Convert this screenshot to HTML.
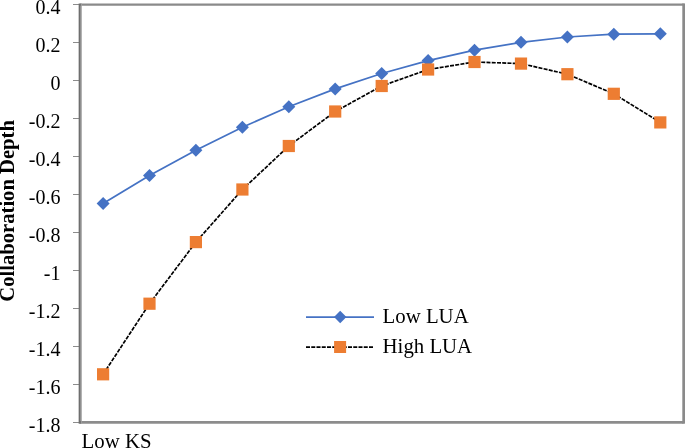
<!DOCTYPE html>
<html><head><meta charset="utf-8"><style>
html,body{margin:0;padding:0;background:#fff;}
body{width:685px;height:448px;overflow:hidden;}
svg{display:block;}
text{font-family:"Liberation Serif",serif;font-size:20px;fill:#000;}
</style></head><body>
<svg width="685" height="448" viewBox="0 0 685 448">
<defs><filter id="b" x="0" y="0" width="685" height="448" filterUnits="userSpaceOnUse"><feGaussianBlur stdDeviation="0.5"/></filter></defs>
<g filter="url(#b)">
<rect x="0" y="0" width="685" height="448" fill="#fff"/>
<path d="M80 4.6H683.6" fill="none" stroke="#8a8a8a" stroke-width="2.4"/>
<path d="M683.6 422.4H80" fill="none" stroke="#8c8c8c" stroke-width="2.9"/>
<rect x="682.3" y="3.4" width="5" height="420.3" fill="#8a8a8a"/>
<path d="M73 4.5H80M73 42.5H80M73 80.5H80M73 118.5H80M73 156.5H80M73 194.5H80M73 232.5H80M73 270.5H80M73 308.5H80M73 346.5H80M73 384.5H80M73 422.5H80" fill="none" stroke="#8c8c8c" stroke-width="1.2"/>
<path d="M81.4 3.4V423.8" fill="none" stroke="#a0a0a0" stroke-width="0.9"/>
<path d="M79.7 3.4V423.8" fill="none" stroke="#6e6e6e" stroke-width="2.1"/>
<g text-anchor="end"><text x="60.5" y="13.6">0.4</text><text x="60.5" y="51.6">0.2</text><text x="60.5" y="89.6">0</text><text x="60.5" y="127.6">-0.2</text><text x="60.5" y="165.6">-0.4</text><text x="60.5" y="203.6">-0.6</text><text x="60.5" y="241.6">-0.8</text><text x="60.5" y="279.6">-1</text><text x="60.5" y="317.6">-1.2</text><text x="60.5" y="355.6">-1.4</text><text x="60.5" y="393.6">-1.6</text><text x="60.5" y="431.6">-1.8</text></g>
<text x="0" y="0" text-anchor="middle" font-weight="bold" style="font-size:20px" transform="translate(14.2 210.9) rotate(-90) scale(1.032 1)">Collaboration Depth</text>
<text x="81.6" y="447.8" style="font-size:20.8px">Low KS</text>
<polyline points="103.1,203.6 149.5,175.6 195.9,150.2 242.4,127.2 288.8,106.8 335.2,88.9 381.7,73.5 428.1,60.6 474.5,50.2 521.0,42.3 567.4,37.0 613.8,34.2 660.3,33.8" fill="none" stroke="#4472c4" stroke-width="1.75"/>
<g fill="#4472c4"><path d="M103.1 197.1L109.6 203.6L103.1 210.1L96.6 203.6Z"/><path d="M149.5 169.1L156.0 175.6L149.5 182.1L143.0 175.6Z"/><path d="M195.9 143.7L202.4 150.2L195.9 156.7L189.4 150.2Z"/><path d="M242.4 120.7L248.9 127.2L242.4 133.7L235.9 127.2Z"/><path d="M288.8 100.3L295.3 106.8L288.8 113.3L282.3 106.8Z"/><path d="M335.2 82.4L341.7 88.9L335.2 95.4L328.7 88.9Z"/><path d="M381.7 67.0L388.2 73.5L381.7 80.0L375.2 73.5Z"/><path d="M428.1 54.1L434.6 60.6L428.1 67.1L421.6 60.6Z"/><path d="M474.5 43.7L481.0 50.2L474.5 56.7L468.0 50.2Z"/><path d="M521.0 35.8L527.5 42.3L521.0 48.8L514.5 42.3Z"/><path d="M567.4 30.5L573.9 37.0L567.4 43.5L560.9 37.0Z"/><path d="M613.8 27.7L620.3 34.2L613.8 40.7L607.3 34.2Z"/><path d="M660.3 27.3L666.8 33.8L660.3 40.3L653.8 33.8Z"/></g>
<polyline points="103.1,374.3 149.5,303.7 195.9,242.1 242.4,189.5 288.8,146.0 335.2,111.5 381.7,86.0 428.1,69.5 474.5,62.0 521.0,63.6 567.4,74.2 613.8,93.8 660.3,122.4" fill="none" stroke="#000" stroke-width="1.7" stroke-dasharray="4 1.25"/>
<g fill="#ed7d31"><rect x="97.0" y="368.2" width="12.2" height="12.2"/><rect x="143.4" y="297.6" width="12.2" height="12.2"/><rect x="189.8" y="236.0" width="12.2" height="12.2"/><rect x="236.3" y="183.4" width="12.2" height="12.2"/><rect x="282.7" y="139.9" width="12.2" height="12.2"/><rect x="329.1" y="105.4" width="12.2" height="12.2"/><rect x="375.6" y="79.9" width="12.2" height="12.2"/><rect x="422.0" y="63.4" width="12.2" height="12.2"/><rect x="468.4" y="55.9" width="12.2" height="12.2"/><rect x="514.9" y="57.5" width="12.2" height="12.2"/><rect x="561.3" y="68.1" width="12.2" height="12.2"/><rect x="607.7" y="87.7" width="12.2" height="12.2"/><rect x="654.2" y="116.3" width="12.2" height="12.2"/></g>
<path d="M306 317H374" stroke="#4472c4" stroke-width="1.75"/>
<path fill="#4472c4" d="M340.2 310.8L346.4 317L340.2 323.2L334 317Z"/>
<path d="M306 347.1H373" stroke="#000" stroke-width="1.7" stroke-dasharray="4 1.25"/>
<rect fill="#ed7d31" x="334.1" y="341" width="12" height="12"/>
<text x="382.6" y="323" style="font-size:20.8px">Low LUA</text>
<text x="382.6" y="352.7" style="font-size:20.8px">High LUA</text>
</g>
</svg>
</body></html>
